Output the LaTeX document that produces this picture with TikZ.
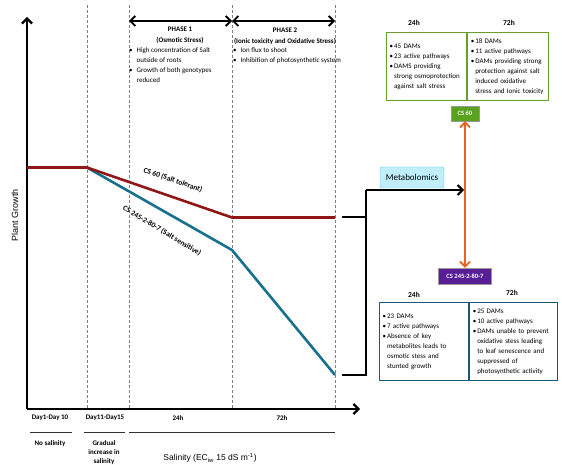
\documentclass[tikz,border=0pt]{standalone}
\usepackage{fontspec}
\setmainfont{Carlito}
\newfontfamily\axisfont{Liberation Sans}
\usepackage{tikz}
\usetikzlibrary{positioning}
\usetikzlibrary{arrows.meta}

\definecolor{tolred}{RGB}{145,22,22}
\definecolor{sensblue}{RGB}{22,112,142}
\definecolor{omicsorange}{RGB}{232,100,30}
\definecolor{cssixty}{RGB}{88,162,30}
\definecolor{cspurple}{RGB}{88,30,150}
\definecolor{boxgreen}{RGB}{105,158,45}
\definecolor{boxteal}{RGB}{25,88,120}
\definecolor{metafill}{RGB}{192,238,250}
\definecolor{metaline}{RGB}{90,200,230}

\newcommand{\itm}{\textbullet\hspace{1pt}}
\newcommand{\ind}{\hphantom{\textbullet\hspace{1pt}}}
\newcommand{\pit}{\textbullet\hspace{4pt}}
\newcommand{\pind}{\hphantom{\textbullet\hspace{4pt}}}

\tikzset{
  axisline/.style={line width=2.2pt, black},
  timemark/.style={gray, line width=0.6pt, dash pattern=on 3pt off 2pt},
  phasearrow/.style={line width=1.8pt, black},
  tolerant/.style={line width=2.6pt, draw=tolred, line join=round},
  sensitive/.style={line width=2.6pt, draw=sensblue, line join=round},
  bracket/.style={line width=2pt, black},
  omics/.style={line width=1.8pt, draw=omicsorange},
  genobox/.style={draw=black!40, text=white, font=\bfseries\fontsize{6.5}{8}\selectfont, inner sep=2.5pt},
  metabox/.style={draw=metaline, fill=metafill, rounded corners=1.5pt, minimum width=64pt, minimum height=21pt, font=\fontsize{9}{10}\selectfont},
  cell/.style={line width=1.2pt, align=left, inner sep=3pt, font=\fontsize{7}{10}\selectfont, anchor=north west},
  colhead/.style={font=\bfseries\fontsize{7.5}{9}\selectfont},
  phasehead/.style={align=center, font=\bfseries\fontsize{7}{11}\selectfont},
  bullets/.style={align=left, inner sep=0pt, anchor=north west, font=\fontsize{7}{10}\selectfont},
  curvelabel/.style={font=\bfseries\fontsize{7.5}{8}\selectfont, inner sep=1pt},
  daylabel/.style={font=\bfseries\fontsize{7}{9}\selectfont, align=center},
  periodline/.style={line width=1pt, black!80},
}

\begin{document}
\begin{tikzpicture}[x=1pt, y=-1pt, >={Straight Barb[length=5pt, width=10pt]}]
\useasboundingbox (0,0) rectangle (562,465);

% axes
\coordinate (O) at (27,409);
\coordinate (ytip) at (27,17);
\coordinate (xtip) at (360,409);
\draw[axisline, ->] (O) -- (ytip);
\draw[axisline, ->] (O) -- (xtip);
\node[rotate=90, font=\axisfont\fontsize{9}{10}\selectfont] (ylab) at (15,215) {Plant Growth};
\node[font=\axisfont\fontsize{8.5}{10}\selectfont] (xlab) at (210,458) {Salinity (EC\textsubscript{iw} 15 dS m\textsuperscript{-1})};

% time marks
\foreach \m/\x in {a/87, b/129, c/232, d/335} {
  \coordinate (\m top) at (\x,5);
  \coordinate (\m bot) at (\x,409);
  \draw[timemark] (\m top) -- (\m bot);
}

% phases
\coordinate (p1) at (129,21);
\coordinate (p2) at (232,21);
\coordinate (p3) at (335,21);
\draw[phasearrow, <->] (p1) -- (p2);
\draw[phasearrow, <->] (p2) -- (p3);
\node[phasehead] (ph1) at (180,35.5) {PHASE 1\\(Osmotic Stress)};
\node[phasehead] (ph2) at (285,36.5) {PHASE 2\\(Ionic toxicity and Oxidative Stress)};
\node[bullets] (ph1txt) at (129,47) {\pit High concentration of Salt\\ \pind outside of roots\\ \pit Growth of both genotypes\\ \pind reduced};
\node[bullets] (ph2txt) at (233,47) {\pit Ion flux to shoot\\ \pit Inhibition of photosynthetic system};

% growth curves
\coordinate (start) at (27,167.5);
\coordinate (onset) at (87,167.5);
\coordinate (tol24) at (232,217.5);
\coordinate (tol72) at (335,217.5);
\coordinate (sens24) at (232,250);
\coordinate (sens72) at (335,375);
\draw[sensitive] (start) -- (onset) -- (sens24) -- (sens72);
\draw[tolerant] (start) -- (onset) -- (tol24) -- (tol72);
\node[curvelabel, rotate=-19] (tollab) at (173,180) {CS 60 (Salt tolerant)};
\node[curvelabel, rotate=-31] (senslab) at (162,231) {CS 245-2-80-7 (Salt sensitive)};

% time axis labels
\node[daylabel] (day1) at (50,418) {Day1-Day 10};
\node[daylabel] (day2) at (105,418) {Day11-Day15};
\node[daylabel] (h24) at (178,418) {24h};
\node[daylabel] (h72) at (282,418) {72h};
\foreach \xa/\xb in {30/72, 84/125, 129/335}
  \draw[periodline] (\xa,432) -- (\xb,432);
\node[daylabel] (nosalt) at (50,444) {No salinity};
\node[daylabel, anchor=north] (gradual) at (104,437) {Gradual\\increase in\\salinity};

% bracket to metabolomics
\coordinate (tolend) at (342,217.5);
\coordinate (sensend) at (342,375);
\coordinate (brtol) at (366,217.5);
\coordinate (brsens) at (366,375);
\coordinate (brtop) at (366,190);
\coordinate (hit) at (464,190);
\draw[bracket] (tolend) -- (brtol);
\draw[bracket] (sensend) -- (brsens) -- (brtop);
\draw[bracket, ->] (brtop) -- (hit);
\node[metabox] (meta) at (412,177.5) {Metabolomics};

% genotypes
\node[genobox, fill=cssixty, minimum width=28pt, minimum height=15pt] (cs60) at (465,113.5) {CS 60};
\node[genobox, fill=cspurple, minimum width=53pt, minimum height=16pt] (cs245) at (465,276) {CS 245-2-80-7};
\draw[omics, <->] (cs60) -- (cs245);

% tolerant results
\node[colhead] (t24) at (414,23) {24h};
\node[colhead] (t72) at (509,23) {72h};
\node[cell, draw=boxgreen, minimum height=68pt, text width=74pt] (tolbox24) at (386,32)
  {\itm 45 DAMs\\ \itm 23 active pathways\\ \itm DAMS providing\\ \ind strong osmoprotection\\ \ind against salt stress};
\node[cell, draw=boxgreen, minimum height=68pt, text width=75pt] (tolbox72) at (tolbox24.north east)
  {\itm 18 DAMs\\ \itm 11 active pathways\\ \itm DAMs providing strong\\ \ind protection against salt\\ \ind induced oxidative\\ \ind stress and Ionic toxicity};

% sensitive results
\node[colhead] (s24) at (414,295) {24h};
\node[colhead] (s72) at (512,293) {72h};
\node[cell, draw=boxteal, minimum height=78pt, text width=83pt] (sensbox24) at (379,302)
  {\itm 23 DAMs\\ \itm 7 active pathways\\ \itm Absence of key\\ \ind metabolites leads to\\ \ind osmotic stess and\\ \ind stunted growth};
\node[cell, draw=boxteal, minimum height=78pt, text width=82pt] (sensbox72) at (sensbox24.north east)
  {\itm 25 DAMs\\ \itm 10 active pathways\\ \itm DAMs unable to prevent\\ \ind oxidative stess leading\\ \ind to leaf senescence  and\\ \ind suppressed of\\ \ind photosynthetic activity};
\end{tikzpicture}
\end{document}
